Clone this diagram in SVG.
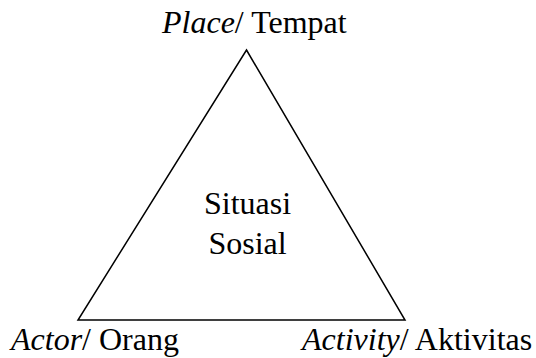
<svg xmlns="http://www.w3.org/2000/svg" width="536" height="358" viewBox="0 0 536 358">
<style>
text{font-family:"Liberation Serif","Times New Roman",serif;font-size:32px;fill:#000}
.i{font-style:italic}
.tri{fill:none;stroke:#000;stroke-width:1.5;stroke-linejoin:miter}
</style>
<rect width="536" height="358" fill="#fff"/>
<g id="triangle">
<polygon class="tri" points="246.5,50 405,320 78,320"/>
</g>
<g id="situasi-sosial">
<text x="247.5" y="214" text-anchor="middle">Situasi</text>
<text x="247.5" y="254" text-anchor="middle">Sosial</text>
</g>
<g id="place">
<text x="162" y="33"><tspan class="i">Place</tspan>/ Tempat</text>
</g>
<g id="actor">
<text x="11" y="350"><tspan class="i">Actor</tspan>/ Orang</text>
</g>
<g id="activity">
<text x="302" y="350"><tspan class="i">Activity</tspan>/ Aktivitas</text>
</g>
<g id="connectors"></g>
</svg>
